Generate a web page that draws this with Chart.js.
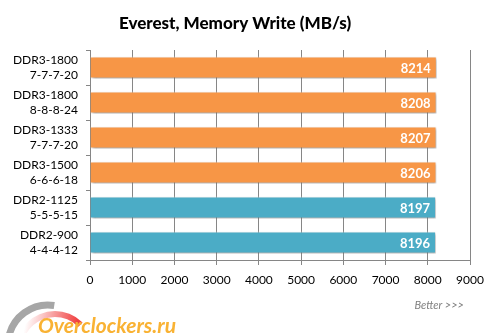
<!DOCTYPE html>
<html>
<head>
<meta charset="utf-8">
<script src="https://cdn.jsdelivr.net/npm/chart.js@4"></script>
<style>
  html, body { margin: 0; padding: 0; background: #fff; }
  #wrap { width: 500px; height: 333px; }
</style>
</head>
<body>
<div id="wrap"><canvas id="memwrite" width="500" height="333"></canvas></div>
<script>
// données du graphique
const configs = [
  ['DDR3-1800', '7-7-7-20'],
  ['DDR3-1800', '8-8-8-24'],
  ['DDR3-1333', '7-7-7-20'],
  ['DDR3-1500', '6-6-6-18'],
  ['DDR2-1125', '5-5-5-15'],
  ['DDR2-900', '4-4-4-12']
];
const writeSpeed = [8214, 8208, 8207, 8206, 8197, 8196];
const barColors = ['#F79646', '#F79646', '#F79646', '#F79646', '#4BACC6', '#4BACC6'];
const xTicks = [0, 1000, 2000, 3000, 4000, 5000, 6000, 7000, 8000, 9000];
const chartTitle = 'Everest, Memory Write (MB/s)';
const fontFam = 'Lato, "Open Sans", sans-serif';

// ombre sous les barres
const barShadow = {
  id: 'barShadow',
  beforeDatasetsDraw(chart) {
    const ctx = chart.ctx;
    ctx.save();
    ctx.shadowColor = 'rgba(0,0,0,0.35)';
    ctx.shadowOffsetX = 1;
    ctx.shadowOffsetY = 2;
    ctx.shadowBlur = 3;
  },
  afterDatasetsDraw(chart) {
    chart.ctx.restore();
  }
};

// valeurs dans les barres + "Better >>>" + logo
const extras = {
  id: 'extras',
  afterDraw(chart) {
    const ctx = chart.ctx;
    const meta = chart.getDatasetMeta(0);
    ctx.save();
    ctx.fillStyle = '#fff';
    ctx.font = 'bold 13px ' + fontFam;
    ctx.textAlign = 'right';
    ctx.textBaseline = 'middle';
    meta.data.forEach((bar, i) => {
      ctx.fillText(writeSpeed[i], bar.x - 6, bar.y + 1);
    });

    ctx.fillStyle = '#7f7f7f';
    ctx.font = 'italic 11px ' + fontFam;
    ctx.textAlign = 'right';
    ctx.fillText('Better >>>', 464, 305);

    // logo approximatif
    ctx.lineCap = 'butt';
    ctx.strokeStyle = '#a6a6a6';
    ctx.lineWidth = 7;
    ctx.beginPath();
    ctx.arc(48, 345, 40, Math.PI * 1.05, Math.PI * 1.55);
    ctx.stroke();
    const grad = ctx.createLinearGradient(30, 300, 80, 310);
    grad.addColorStop(0, '#ffffff');
    grad.addColorStop(1, '#f04040');
    ctx.strokeStyle = grad;
    ctx.lineWidth = 6;
    ctx.beginPath();
    ctx.arc(55, 350, 36, Math.PI * 1.12, Math.PI * 1.75);
    ctx.stroke();
    ctx.fillStyle = '#F9B233';
    ctx.font = 'italic bold 21px ' + fontFam;
    ctx.textAlign = 'left';
    ctx.textBaseline = 'alphabetic';
    ctx.fillText('Overclockers.ru', 38, 333);
    ctx.restore();
  }
};

const ctx = document.getElementById('memwrite').getContext('2d');
new Chart(ctx, {
  type: 'bar',
  data: {
    labels: configs,
    datasets: [{
      data: writeSpeed,
      backgroundColor: barColors,
      borderColor: 'rgba(255,255,255,0.6)',
      borderWidth: 1,
      categoryPercentage: 1,
      barPercentage: 0.63
    }]
  },
  options: {
    indexAxis: 'y',
    responsive: false,
    animation: false,
    devicePixelRatio: 1,
    layout: { padding: { left: 0, right: 30, bottom: 33 } },
    plugins: {
      legend: { display: false },
      tooltip: { enabled: false },
      title: {
        display: true,
        text: chartTitle,
        color: '#000',
        font: { family: fontFam, size: 17, weight: 900 },
        padding: { top: 13, bottom: 16.6 }
      }
    },
    scales: {
      x: {
        min: 0,
        max: 9000,
        afterBuildTicks(axis) {
          axis.ticks = xTicks.map(v => ({ value: v }));
        },
        afterFit(axis) { axis.height = 40; },
        grid: { color: '#868686', lineWidth: 1, tickLength: 5, drawTicks: true, drawOnChartArea: true },
        border: { display: true, color: '#868686' },
        ticks: {
          color: '#000',
          font: { family: fontFam, size: 12 },
          padding: 8,
          maxRotation: 0,
          callback: v => String(v)
        }
      },
      y: {
        afterFit(axis) { axis.width = 90; },
        grid: { offset: true, drawOnChartArea: false, color: '#868686', tickLength: 4 },
        border: { display: true, color: '#868686' },
        ticks: { color: '#000', font: { family: fontFam, size: 12, lineHeight: 1.3 }, padding: 8 }
      }
    }
  },
  plugins: [barShadow, extras]
});
</script>
</body>
</html>
